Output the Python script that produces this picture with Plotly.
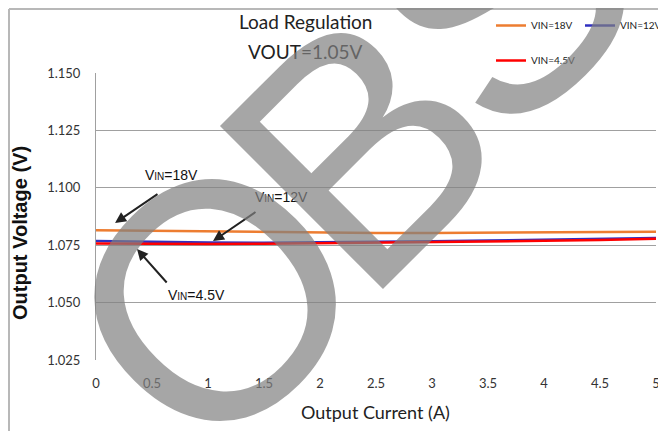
import plotly.graph_objects as go

current = [0, 0.5, 1, 1.5, 2, 2.5, 3, 3.5, 4, 4.5, 5]
vin18 = [1.0815, 1.0812, 1.0809, 1.0806, 1.0804, 1.0803, 1.0803, 1.0804, 1.0805, 1.0807, 1.0809]
vin12 = [1.0768, 1.0764, 1.0762, 1.0761, 1.0762, 1.0764, 1.0767, 1.0770, 1.0773, 1.0777, 1.0781]
vin45 = [1.0757, 1.0755, 1.0755, 1.0756, 1.0758, 1.0760, 1.0763, 1.0766, 1.0769, 1.0773, 1.0778]
ytick_vals = [1.025, 1.050, 1.075, 1.100, 1.125, 1.150]
ytick_text = ["1.025", "1.050", "1.075", "1.100", "1.125", "1.150"]
xtick_vals = [0, 0.5, 1, 1.5, 2, 2.5, 3, 3.5, 4, 4.5, 5]
xtick_text = ["0", "0.5", "1", "1.5", "2", "2.5", "3", "3.5", "4", "4.5", "5"]
watermark_letters = ["O", "B", "S"]

# page body has an 8px margin, so the figure is drawn 8px smaller
OFF = 8
W, H = 666 - OFF, 431 - OFF
PL, PR, PT, PB = 96, 656, 73, 360  # plot area in window pixels


def px(x):
    return (x - PL) / (PR - PL)


def py(y):
    return (PB - y) / (PB - PT)


fig = go.Figure()
fig.add_trace(go.Scatter(x=current, y=vin18, mode="lines", name="VIN=18V", legend="legend",
                         line=dict(color="#ED7D31", width=2.5)))
fig.add_trace(go.Scatter(x=current, y=vin12, mode="lines", name="VIN=12V", legend="legend",
                         line=dict(color="#3030C0", width=2.5)))
fig.add_trace(go.Scatter(x=current, y=vin45, mode="lines", name="VIN=4.5V", legend="legend2",
                         line=dict(color="#FF0000", width=2.5)))


def vin(v):
    return "V<span style='font-size:10px'>IN</span>=" + v


arrows = [
    (0.17, 1.0847, 0.5625, 1.0977),
    (1.045, 1.0768, 1.4375, 1.0899),
    (0.366, 1.0733, 0.643, 1.0581),
]
annotations = []
for x, y, ax, ay in arrows:
    annotations.append(dict(x=x, y=y, ax=ax, ay=ay, xref="x", yref="y",
                            axref="x", ayref="y", text="", showarrow=True, arrowhead=2,
                            arrowsize=1.1, arrowwidth=2, arrowcolor="#222222"))
lab_font = dict(family="Liberation Sans, Arial", size=14, color="#111111")
annotations += [
    dict(x=0.67, y=1.1056, xref="x", yref="y", text=vin("18V"), showarrow=False, font=lab_font),
    dict(x=1.66, y=1.0960, xref="x", yref="y", text=vin("12V"), showarrow=False, font=lab_font),
    dict(x=0.90, y=1.0533, xref="x", yref="y", text=vin("4.5V"), showarrow=False, font=lab_font),
    dict(x=px(305), y=py(22), xref="paper", yref="paper", xanchor="center", yanchor="middle",
         text="Load Regulation", showarrow=False,
         font=dict(family="Lato, Open Sans", size=19, color="#222222")),
    dict(x=px(305), y=py(52), xref="paper", yref="paper", xanchor="center", yanchor="middle",
         text="VOUT=1.05V", showarrow=False,
         font=dict(family="Lato, Open Sans", size=19, color="#222222")),
    dict(x=px(20), y=py(233), xref="paper", yref="paper", xanchor="center", yanchor="middle",
         text="<b>Output Voltage (V)</b>", showarrow=False, textangle=-90,
         font=dict(family="Liberation Sans, Arial", size=20, color="#111111")),
    dict(x=px(375), y=py(412), xref="paper", yref="paper", xanchor="center", yanchor="middle",
         text="Output Current (A)", showarrow=False,
         font=dict(family="Lato, Open Sans", size=18, color="#222222")),
]
# watermark letters, placed one by one (window pixel centres)
wm_pos = [(215, 300), (360, 148), (500, -8)]
for letter, (cx, cy) in zip(watermark_letters, wm_pos):
    annotations.append(dict(x=px(cx), y=py(cy), xref="paper", yref="paper",
                            xanchor="center", yanchor="middle", text=letter,
                            showarrow=False, textangle=-45,
                            font=dict(family="Liberation Sans, Arial", size=335,
                                      color="rgba(128,128,128,0.7)")))

shapes = [
    dict(type="line", xref="paper", yref="paper", x0=px(9), x1=px(666), y0=py(9), y1=py(9),
         line=dict(color="#B8B8B8", width=2)),
    dict(type="line", xref="paper", yref="paper", x0=px(9), x1=px(9), y0=py(9), y1=py(431),
         line=dict(color="#B8B8B8", width=2)),
]

leg_font = dict(family="Lato, Open Sans", size=10, color="#222222")
fig.update_layout(
    width=W, height=H,
    margin=dict(l=PL - OFF, r=W - (PR - OFF), t=PT - OFF, b=H - (PB - OFF), autoexpand=False),
    paper_bgcolor="white", plot_bgcolor="white",
    showlegend=True,
    legend=dict(orientation="h", x=(491 - OFF) / W, y=1 - (11 - OFF) / H,
                xref="container", yref="container",
                xanchor="left", yanchor="top", entrywidth=44, itemwidth=30,
                font=leg_font, bgcolor="rgba(0,0,0,0)"),
    legend2=dict(orientation="h", x=(491 - OFF) / W, y=1 - (46 - OFF) / H,
                 xref="container", yref="container",
                 xanchor="left", yanchor="top", itemwidth=30,
                 font=leg_font, bgcolor="rgba(0,0,0,0)"),
    xaxis=dict(range=[0, 5], tickvals=xtick_vals, ticktext=xtick_text, showgrid=False,
               zeroline=False, showline=False, ticks="outside", ticklen=11,
               tickcolor="rgba(0,0,0,0)",
               tickfont=dict(family="Lato, Open Sans", size=13, color="#333333")),
    yaxis=dict(range=[1.025, 1.150], tickvals=ytick_vals, ticktext=ytick_text,
               showgrid=True, gridcolor="#A0A0A0", gridwidth=1, zeroline=False,
               showline=True, linecolor="#A0A0A0", ticks="outside", ticklen=12,
               tickcolor="rgba(0,0,0,0)",
               tickfont=dict(family="Lato, Open Sans", size=13, color="#333333")),
    annotations=annotations,
    shapes=shapes,
)
fig.write_html("out.html")
